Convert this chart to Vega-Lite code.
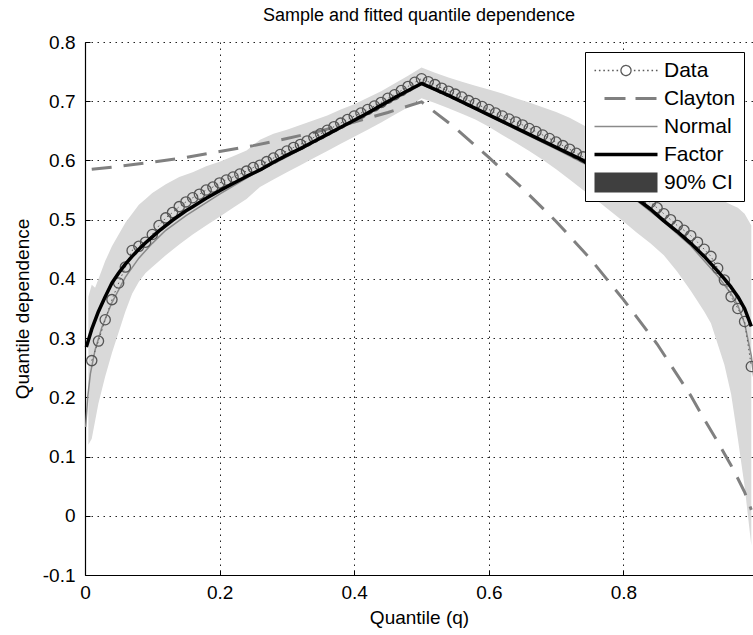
{
  "$schema": "https://vega.github.io/schema/vega-lite/v6.json",
  "width": 668,
  "height": 533,
  "autosize": {"type": "none"},
  "padding": {"left": 85, "top": 42, "right": 0, "bottom": 60},
  "background": "white",
  "title": {"text": "Sample and fitted quantile dependence", "fontSize": 18, "font": "Liberation Sans", "fontWeight": "normal", "color": "black", "offset": 8, "anchor": "middle"},
  "config": {
    "view": {"stroke": null},
    "font": "Liberation Sans",
    "axis": {
      "grid": true, "gridDash": [1.5, 4.5], "gridColor": "#222222", "gridWidth": 1, "gridOpacity": 1,
      "tickSize": -5, "tickColor": "black", "tickWidth": 1,
      "domainColor": "black", "domainWidth": 1.2,
      "labelFontSize": 19, "labelColor": "black", "labelFlush": false, "labelFont": "Liberation Sans",
      "titleFontSize": 19, "titleFontWeight": "normal", "titleColor": "black", "titleFont": "Liberation Sans",
      "zindex": 1
    }
  },
  "datasets": {
    "band": [
      {"q":0.005,"lo":0.12,"hi":0.37},{"q":0.01,"lo":0.13,"hi":0.39},{"q":0.015,"lo":0.16,"hi":0.385},{"q":0.02,"lo":0.19,"hi":0.4},
      {"q":0.03,"lo":0.235,"hi":0.43},{"q":0.04,"lo":0.275,"hi":0.455},{"q":0.05,"lo":0.31,"hi":0.475},{"q":0.06,"lo":0.345,"hi":0.495},
      {"q":0.07,"lo":0.375,"hi":0.51},{"q":0.08,"lo":0.395,"hi":0.525},{"q":0.09,"lo":0.41,"hi":0.535},{"q":0.1,"lo":0.42,"hi":0.545},
      {"q":0.12,"lo":0.44,"hi":0.56},{"q":0.14,"lo":0.458,"hi":0.572},{"q":0.16,"lo":0.475,"hi":0.58},{"q":0.18,"lo":0.49,"hi":0.59},
      {"q":0.2,"lo":0.505,"hi":0.598},{"q":0.22,"lo":0.52,"hi":0.607},{"q":0.24,"lo":0.535,"hi":0.617},{"q":0.26,"lo":0.555,"hi":0.635},
      {"q":0.28,"lo":0.568,"hi":0.645},{"q":0.3,"lo":0.58,"hi":0.652},{"q":0.32,"lo":0.592,"hi":0.66},{"q":0.34,"lo":0.604,"hi":0.668},
      {"q":0.36,"lo":0.616,"hi":0.676},{"q":0.38,"lo":0.628,"hi":0.686},{"q":0.4,"lo":0.64,"hi":0.695},{"q":0.42,"lo":0.652,"hi":0.706},
      {"q":0.44,"lo":0.664,"hi":0.717},{"q":0.46,"lo":0.677,"hi":0.73},{"q":0.48,"lo":0.69,"hi":0.743},{"q":0.5,"lo":0.705,"hi":0.757},
      {"q":0.52,"lo":0.697,"hi":0.748},{"q":0.54,"lo":0.688,"hi":0.74},{"q":0.56,"lo":0.679,"hi":0.733},{"q":0.58,"lo":0.669,"hi":0.726},
      {"q":0.6,"lo":0.657,"hi":0.72},{"q":0.62,"lo":0.643,"hi":0.713},{"q":0.64,"lo":0.63,"hi":0.705},{"q":0.66,"lo":0.616,"hi":0.698},
      {"q":0.68,"lo":0.601,"hi":0.69},{"q":0.7,"lo":0.585,"hi":0.682},{"q":0.72,"lo":0.568,"hi":0.672},{"q":0.74,"lo":0.55,"hi":0.66},
      {"q":0.76,"lo":0.533,"hi":0.648},{"q":0.78,"lo":0.515,"hi":0.634},{"q":0.8,"lo":0.497,"hi":0.62},{"q":0.82,"lo":0.478,"hi":0.607},
      {"q":0.84,"lo":0.46,"hi":0.596},{"q":0.86,"lo":0.44,"hi":0.585},{"q":0.88,"lo":0.412,"hi":0.573},{"q":0.9,"lo":0.38,"hi":0.56},
      {"q":0.92,"lo":0.345,"hi":0.548},{"q":0.93,"lo":0.325,"hi":0.543},{"q":0.94,"lo":0.29,"hi":0.537},{"q":0.95,"lo":0.255,"hi":0.531},
      {"q":0.96,"lo":0.205,"hi":0.525},{"q":0.97,"lo":0.13,"hi":0.52},{"q":0.98,"lo":0.05,"hi":0.51},{"q":0.99,"lo":-0.05,"hi":0.49}
    ],
    "normal": [
      {"q":0.001,"v":0.15},{"q":0.004,"v":0.2},{"q":0.008,"v":0.24},{"q":0.015,"v":0.28},{"q":0.025,"v":0.318},{"q":0.04,"v":0.36},
      {"q":0.06,"v":0.403},{"q":0.08,"v":0.435},{"q":0.1,"v":0.46},{"q":0.12,"v":0.482},{"q":0.15,"v":0.507},{"q":0.2,"v":0.543},
      {"q":0.25,"v":0.577},{"q":0.3,"v":0.606},{"q":0.35,"v":0.636},{"q":0.4,"v":0.666},{"q":0.45,"v":0.697},{"q":0.5,"v":0.728},
      {"q":0.55,"v":0.705},{"q":0.6,"v":0.675},{"q":0.65,"v":0.647},{"q":0.7,"v":0.619},{"q":0.75,"v":0.59},{"q":0.8,"v":0.55},
      {"q":0.86,"v":0.496},{"q":0.9,"v":0.456},{"q":0.94,"v":0.405},{"q":0.96,"v":0.375},{"q":0.97,"v":0.355},{"q":0.98,"v":0.325},
      {"q":0.99,"v":0.27},{"q":0.995,"v":0.22}
    ],
    "clayton": [
      {"q":0.01,"v":0.585},{"q":0.05,"v":0.59},{"q":0.1,"v":0.597},{"q":0.15,"v":0.605},{"q":0.2,"v":0.615},{"q":0.25,"v":0.625},
      {"q":0.3,"v":0.637},{"q":0.35,"v":0.65},{"q":0.4,"v":0.665},{"q":0.45,"v":0.681},{"q":0.5,"v":0.699},{"q":0.55,"v":0.655},
      {"q":0.6,"v":0.605},{"q":0.65,"v":0.553},{"q":0.7,"v":0.497},{"q":0.75,"v":0.435},{"q":0.8,"v":0.365},{"q":0.85,"v":0.29},
      {"q":0.9,"v":0.203},{"q":0.92,"v":0.163},{"q":0.94,"v":0.125},{"q":0.96,"v":0.085},{"q":0.97,"v":0.063},{"q":0.98,"v":0.04},
      {"q":0.99,"v":0.01}
    ],
    "sample": [
      {"q":0.01,"v":0.262},{"q":0.02,"v":0.295},{"q":0.03,"v":0.331},{"q":0.04,"v":0.365},{"q":0.05,"v":0.393},{"q":0.06,"v":0.42},
      {"q":0.07,"v":0.448},{"q":0.08,"v":0.455},{"q":0.09,"v":0.462},{"q":0.1,"v":0.475},{"q":0.11,"v":0.49},{"q":0.12,"v":0.503},
      {"q":0.13,"v":0.512},{"q":0.14,"v":0.522},{"q":0.15,"v":0.53},{"q":0.16,"v":0.537},{"q":0.17,"v":0.543},{"q":0.18,"v":0.55},
      {"q":0.19,"v":0.555},{"q":0.2,"v":0.562},{"q":0.21,"v":0.567},{"q":0.22,"v":0.572},{"q":0.23,"v":0.577},{"q":0.24,"v":0.582},
      {"q":0.25,"v":0.588},{"q":0.26,"v":0.592},{"q":0.27,"v":0.598},{"q":0.28,"v":0.604},{"q":0.29,"v":0.61},{"q":0.3,"v":0.616},
      {"q":0.31,"v":0.622},{"q":0.32,"v":0.627},{"q":0.33,"v":0.633},{"q":0.34,"v":0.639},{"q":0.35,"v":0.645},{"q":0.36,"v":0.651},
      {"q":0.37,"v":0.657},{"q":0.38,"v":0.663},{"q":0.39,"v":0.669},{"q":0.4,"v":0.675},{"q":0.41,"v":0.68},{"q":0.42,"v":0.686},
      {"q":0.43,"v":0.692},{"q":0.44,"v":0.698},{"q":0.45,"v":0.705},{"q":0.46,"v":0.711},{"q":0.47,"v":0.718},{"q":0.48,"v":0.725},
      {"q":0.49,"v":0.732},{"q":0.5,"v":0.738},{"q":0.51,"v":0.733},{"q":0.52,"v":0.728},{"q":0.53,"v":0.722},{"q":0.54,"v":0.717},
      {"q":0.55,"v":0.712},{"q":0.56,"v":0.707},{"q":0.57,"v":0.701},{"q":0.58,"v":0.696},{"q":0.59,"v":0.691},{"q":0.6,"v":0.686},
      {"q":0.61,"v":0.68},{"q":0.62,"v":0.675},{"q":0.63,"v":0.67},{"q":0.64,"v":0.665},{"q":0.65,"v":0.66},{"q":0.66,"v":0.654},
      {"q":0.67,"v":0.649},{"q":0.68,"v":0.643},{"q":0.69,"v":0.637},{"q":0.7,"v":0.631},{"q":0.71,"v":0.625},{"q":0.72,"v":0.619},
      {"q":0.73,"v":0.612},{"q":0.74,"v":0.606},{"q":0.75,"v":0.599},{"q":0.76,"v":0.592},{"q":0.77,"v":0.585},{"q":0.78,"v":0.578},
      {"q":0.79,"v":0.57},{"q":0.8,"v":0.562},{"q":0.81,"v":0.554},{"q":0.82,"v":0.546},{"q":0.83,"v":0.538},{"q":0.84,"v":0.529},
      {"q":0.85,"v":0.52},{"q":0.86,"v":0.51},{"q":0.87,"v":0.5},{"q":0.88,"v":0.49},{"q":0.89,"v":0.482},{"q":0.9,"v":0.473},
      {"q":0.91,"v":0.462},{"q":0.92,"v":0.45},{"q":0.93,"v":0.438},{"q":0.94,"v":0.418},{"q":0.95,"v":0.398},{"q":0.96,"v":0.37},
      {"q":0.97,"v":0.35},{"q":0.98,"v":0.328},{"q":0.99,"v":0.252}
    ],
    "factor": [
      {"q":0.002,"v":0.285,"series":"Factor"},{"q":0.01,"v":0.315,"series":"Factor"},{"q":0.02,"v":0.345,"series":"Factor"},
      {"q":0.03,"v":0.37,"series":"Factor"},{"q":0.04,"v":0.393,"series":"Factor"},{"q":0.05,"v":0.41,"series":"Factor"},
      {"q":0.06,"v":0.425,"series":"Factor"},{"q":0.07,"v":0.438,"series":"Factor"},{"q":0.08,"v":0.45,"series":"Factor"},
      {"q":0.09,"v":0.461,"series":"Factor"},{"q":0.1,"v":0.471,"series":"Factor"},{"q":0.11,"v":0.481,"series":"Factor"},
      {"q":0.12,"v":0.49,"series":"Factor"},{"q":0.13,"v":0.499,"series":"Factor"},{"q":0.14,"v":0.507,"series":"Factor"},
      {"q":0.15,"v":0.515,"series":"Factor"},{"q":0.16,"v":0.522,"series":"Factor"},{"q":0.18,"v":0.536,"series":"Factor"},
      {"q":0.2,"v":0.549,"series":"Factor"},{"q":0.22,"v":0.561,"series":"Factor"},{"q":0.24,"v":0.573,"series":"Factor"},
      {"q":0.26,"v":0.584,"series":"Factor"},{"q":0.28,"v":0.597,"series":"Factor"},{"q":0.3,"v":0.609,"series":"Factor"},
      {"q":0.32,"v":0.62,"series":"Factor"},{"q":0.34,"v":0.632,"series":"Factor"},{"q":0.36,"v":0.644,"series":"Factor"},
      {"q":0.38,"v":0.656,"series":"Factor"},{"q":0.4,"v":0.668,"series":"Factor"},{"q":0.42,"v":0.68,"series":"Factor"},
      {"q":0.44,"v":0.693,"series":"Factor"},{"q":0.46,"v":0.706,"series":"Factor"},{"q":0.48,"v":0.718,"series":"Factor"},
      {"q":0.5,"v":0.73,"series":"Factor"},{"q":0.52,"v":0.72,"series":"Factor"},{"q":0.54,"v":0.71,"series":"Factor"},
      {"q":0.56,"v":0.699,"series":"Factor"},{"q":0.58,"v":0.688,"series":"Factor"},{"q":0.6,"v":0.677,"series":"Factor"},
      {"q":0.62,"v":0.666,"series":"Factor"},{"q":0.64,"v":0.655,"series":"Factor"},{"q":0.66,"v":0.644,"series":"Factor"},
      {"q":0.68,"v":0.633,"series":"Factor"},{"q":0.7,"v":0.622,"series":"Factor"},{"q":0.72,"v":0.611,"series":"Factor"},
      {"q":0.74,"v":0.6,"series":"Factor"},{"q":0.76,"v":0.584,"series":"Factor"},{"q":0.78,"v":0.568,"series":"Factor"},
      {"q":0.8,"v":0.552,"series":"Factor"},{"q":0.82,"v":0.535,"series":"Factor"},{"q":0.84,"v":0.518,"series":"Factor"},
      {"q":0.86,"v":0.498,"series":"Factor"},{"q":0.88,"v":0.48,"series":"Factor"},{"q":0.9,"v":0.46,"series":"Factor"},
      {"q":0.92,"v":0.438,"series":"Factor"},{"q":0.94,"v":0.413,"series":"Factor"},{"q":0.95,"v":0.4,"series":"Factor"},
      {"q":0.96,"v":0.386,"series":"Factor"},{"q":0.97,"v":0.37,"series":"Factor"},{"q":0.98,"v":0.35,"series":"Factor"},
      {"q":0.99,"v":0.32,"series":"Factor"}
    ]
  },
  "layer": [
    {
      "data": {"name": "band"},
      "mark": {"type": "area", "color": "#d9d9d9", "opacity": 1},
      "encoding": {
        "x": {"field": "q", "type": "quantitative", "title": "Quantile (q)",
              "scale": {"domain": [0, 0.9925], "nice": false, "zero": false},
              "axis": {"values": [0, 0.2, 0.4, 0.6, 0.8], "labelExpr": "datum.value == 0 ? '0' : format(datum.value, '.1f')", "labelPadding": 13, "titlePadding": 6}},
        "y": {"field": "lo", "type": "quantitative", "title": "Quantile dependence",
              "scale": {"domain": [-0.1, 0.8], "nice": false, "zero": false},
              "axis": {"values": [-0.1, 0, 0.1, 0.2, 0.3, 0.4, 0.5, 0.6, 0.7, 0.8], "labelExpr": "datum.value < 0 ? '-' + format(-datum.value, '.1~f') : format(datum.value, '.1~f')", "labelPadding": 15, "titlePadding": 10}},
        "y2": {"field": "hi"}
      }
    },
    {
      "data": {"name": "normal"},
      "mark": {"type": "line", "color": "#8a8a8a", "strokeWidth": 1.5},
      "encoding": {
        "x": {"field": "q", "type": "quantitative", "title": "Quantile (q)"},
        "y": {"field": "v", "type": "quantitative", "title": "Quantile dependence"}
      }
    },
    {
      "data": {"name": "clayton"},
      "mark": {"type": "line", "color": "#808080", "strokeWidth": 3, "strokeDash": [20, 12]},
      "encoding": {
        "x": {"field": "q", "type": "quantitative", "title": "Quantile (q)"},
        "y": {"field": "v", "type": "quantitative", "title": "Quantile dependence"}
      }
    },
    {
      "data": {"name": "sample"},
      "mark": {"type": "line", "color": "#5a5a5a", "strokeWidth": 1, "strokeDash": [1.5, 3]},
      "encoding": {
        "x": {"field": "q", "type": "quantitative", "title": "Quantile (q)"},
        "y": {"field": "v", "type": "quantitative", "title": "Quantile dependence"}
      }
    },
    {
      "data": {"name": "sample"},
      "mark": {"type": "point", "shape": "circle", "filled": false, "size": 105, "stroke": "#555555", "strokeWidth": 1.3, "opacity": 1},
      "encoding": {
        "x": {"field": "q", "type": "quantitative", "title": "Quantile (q)"},
        "y": {"field": "v", "type": "quantitative", "title": "Quantile dependence"}
      }
    },
    {
      "data": {"name": "factor"},
      "mark": {"type": "line", "strokeWidth": 3.5, "strokeJoin": "round"},
      "encoding": {
        "x": {"field": "q", "type": "quantitative", "title": "Quantile (q)"},
        "y": {"field": "v", "type": "quantitative", "title": "Quantile dependence"},
        "color": {
          "field": "series", "type": "nominal",
          "scale": {"domain": ["Data", "Clayton", "Normal", "Factor", "90% CI"], "range": ["#5a5a5a", "#808080", "#8a8a8a", "#000000", "#3f3f3f"]},
          "legend": {
            "title": null, "orient": "none", "legendX": 500, "legendY": 10,
            "symbolType": "stroke", "symbolSize": 400, "rowPadding": 6,
            "labelFontSize": 21, "labelOffset": 50, "labelColor": "black", "labelFont": "Liberation Sans",
            "padding": 8, "strokeColor": "black", "fillColor": "white", "zindex": 2,
            "encode": {
              "symbols": {
                "update": {
                  "size": {"value": 3969},
                  "x": {"value": 33},
                  "shape": {"signal": "datum.value == 'Data' ? 'M-1,0L-0.95,0M-0.86,0L-0.81,0M-0.72,0L-0.67,0M-0.58,0L-0.53,0M-0.44,0L-0.39,0M-0.3,0L-0.25,0M0.16,0A0.16,0.16 0 1,1 -0.16,0A0.16,0.16 0 1,1 0.16,0M0.25,0L0.3,0M0.39,0L0.44,0M0.53,0L0.58,0M0.67,0L0.72,0M0.81,0L0.86,0M0.95,0L1,0' : datum.value == '90% CI' ? 'M-1,-0.32L1,-0.32L1,0.32L-1,0.32Z' : 'stroke'"},
                  "stroke": {"signal": "datum.value == 'Data' ? '#5a5a5a' : datum.value == 'Clayton' ? '#808080' : datum.value == 'Normal' ? '#8a8a8a' : datum.value == 'Factor' ? '#000000' : '#3f3f3f'"},
                  "fill": {"signal": "datum.value == '90% CI' ? '#3f3f3f' : 'transparent'"},
                  "strokeWidth": {"signal": "datum.value == 'Data' ? 1.3 : datum.value == 'Clayton' ? 3 : datum.value == 'Normal' ? 1.5 : datum.value == 'Factor' ? 3.5 : 0"},
                  "strokeDash": {"signal": "datum.value == 'Clayton' ? [21, 10] : [1, 0]"},
                  "strokeDashOffset": {"signal": "datum.value == 'Clayton' ? 21 : 0"},
                  "opacity": {"value": 1},
                  "fillOpacity": {"value": 1},
                  "strokeOpacity": {"value": 1}
                }
              }
            }
          }
        }
      }
    }
  ]
}
